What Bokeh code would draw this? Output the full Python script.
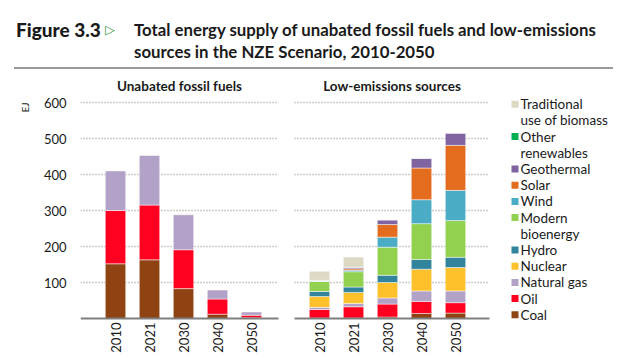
from bokeh.plotting import figure
from bokeh.models import Range1d, FixedTicker, Label, Div, ColumnDataSource, LinearAxis
from bokeh.layouts import column
from bokeh.embed import file_html
from bokeh.resources import INLINE
from bokeh.core.properties import value
import math

years = ["2010", "2021", "2030", "2040", "2050"]

# Unabated fossil fuels (EJ)
fossil_coal = [152, 163, 83, 12, 2]
fossil_oil = [148, 152, 108, 42, 7]
fossil_gas = [110, 138, 97, 25, 9]

# Low-emissions sources (EJ)
le_coal = [1, 1, 4, 14, 15]
le_oil = [24, 31.6, 36, 33.5, 29]
le_gas = [6, 9.4, 17, 29, 32.5]
le_nuclear = [30, 30.5, 43, 60.5, 65]
le_hydro = [14, 15, 20, 27, 28.5]
le_bio = [28, 42.5, 78, 99.5, 102]
le_wind = [1, 4, 28, 66.5, 84]
le_solar = [0.5, 4, 35, 88, 125]
le_geo = [1, 4, 13, 27, 34]
le_other = [0.5, 0.5, 0.5, 0.5, 0.5]
le_trad = [25, 28, 0, 0, 0]

y_ticks = [100, 200, 300, 400, 500, 600]
unit_label = "EJ"

legend_labels = ["Traditional\nuse of biomass", "Other\nrenewables", "Geothermal", "Solar",
                 "Wind", "Modern\nbioenergy", "Hydro", "Nuclear", "Natural gas", "Oil", "Coal"]

C = {
    "coal": "#8f4312", "oil": "#ff0021", "gas": "#b3a2c7", "nuclear": "#ffc12b",
    "hydro": "#31849b", "bio": "#92d050", "wind": "#4bacc6", "solar": "#e46c1f",
    "geo": "#8064a2", "other": "#00b050", "trad": "#ddd9c4",
}
legend_colors = [C["trad"], C["other"], C["geo"], C["solar"], C["wind"], C["bio"],
                 C["hydro"], C["nuclear"], C["gas"], C["oil"], C["coal"]]

FONT = "Lato"
TXT = "#1a1a1a"

# ---- geometry (page pixels) ----
HEADER_H = 67
FRAME_L, FRAME_R = 81, 610
FRAME_T, FRAME_B = 80, 321
Y0_PX, Y600_PX = 319, 103
SLOT = 34.0            # px per category
LEFT_FIRST_PX = 116    # centre of first left bar
RIGHT_OFFSET = 6       # right panel categories start 6 slots later
SHIFT = 7              # measured horizontal offset of the figure on the page

PX_PER_Y = (Y0_PX - Y600_PX) / 600.0
x_start = -(LEFT_FIRST_PX - FRAME_L) / SLOT
x_end = x_start + (FRAME_R - FRAME_L) / SLOT
y_end = (Y0_PX - FRAME_T) / PX_PER_Y
y_start = -(FRAME_B - Y0_PX) / PX_PER_Y


def px_x(px):
    return x_start + (px - FRAME_L) / SLOT


def px_y(py):
    return (Y0_PX - py) / PX_PER_Y


xs_left = list(range(len(years)))
xs_right = [i + RIGHT_OFFSET for i in xs_left]

p = figure(frame_width=FRAME_R - FRAME_L, frame_height=FRAME_B - FRAME_T,
           x_range=Range1d(x_start, x_end), y_range=Range1d(y_start, y_end),
           output_backend="svg", toolbar_location=None,
           min_border_left=FRAME_L - 8 + SHIFT, min_border_right=0,
           min_border_top=2, min_border_bottom=356 - FRAME_B)
p.outline_line_color = None
p.background_fill_color = None
p.border_fill_color = None
p.grid.visible = False

p.yaxis.ticker = FixedTicker(ticks=y_ticks)
p.yaxis.major_label_text_font = FONT
p.yaxis.major_label_text_font_size = "13px"
p.yaxis.major_label_text_color = TXT
p.yaxis.major_label_standoff = 14
p.yaxis.major_tick_out = 0
p.yaxis.major_tick_in = 0
p.yaxis.minor_tick_out = 0
p.yaxis.minor_tick_in = 0
p.yaxis.major_tick_line_color = None
p.yaxis.minor_tick_line_color = None
p.yaxis.axis_line_color = None

# unit label as an outer axis with a single tick at the top
unit_ax = LinearAxis(ticker=FixedTicker(ticks=[y_ticks[-1]]),
                     major_label_overrides={y_ticks[-1]: unit_label})
unit_ax.major_label_orientation = math.pi / 2
unit_ax.major_label_text_font = FONT
unit_ax.major_label_text_font_size = "10px"
unit_ax.major_label_text_color = TXT
unit_ax.major_label_standoff = 16
unit_ax.major_tick_out = 0
unit_ax.major_tick_in = 0
unit_ax.minor_tick_out = 0
unit_ax.minor_tick_in = 0
unit_ax.major_tick_line_color = None
unit_ax.minor_tick_line_color = None
unit_ax.axis_line_color = None
p.add_layout(unit_ax, "left")

p.xaxis.ticker = FixedTicker(ticks=xs_left + xs_right)
overrides = {}
for i, y in enumerate(years):
    overrides[xs_left[i]] = y
    overrides[xs_right[i]] = y
p.xaxis.major_label_overrides = overrides
p.xaxis.major_label_orientation = math.pi / 2
p.xaxis.major_label_text_font = FONT
p.xaxis.major_label_text_font_size = "13px"
p.xaxis.major_label_text_color = TXT
p.xaxis.major_label_standoff = 2
p.xaxis.major_tick_out = 0
p.xaxis.major_tick_in = 0
p.xaxis.minor_tick_out = 0
p.xaxis.minor_tick_in = 0
p.xaxis.major_tick_line_color = None
p.xaxis.minor_tick_line_color = None
p.xaxis.axis_line_color = None

# panel extents
L0, L1 = px_x(81), px_x(279)
R0, R1 = px_x(295), px_x(490)

# dotted gridlines
for t in y_ticks:
    p.segment(x0=[L0, R0], x1=[L1, R1], y0=[t, t], y1=[t, t],
              line_color="#9a9a9a", line_dash="1 2", line_width=1.5)

# stacked bars
src_f = ColumnDataSource(dict(x=xs_left, coal=fossil_coal, oil=fossil_oil, gas=fossil_gas))
p.vbar_stack(["coal", "oil", "gas"], x="x", width=0.6, source=src_f,
             color=[C["coal"], C["oil"], C["gas"]], line_color="white", line_width=0.8, line_alpha=0.6)

src_l = ColumnDataSource(dict(x=xs_right, coal=le_coal, oil=le_oil, gas=le_gas, nuclear=le_nuclear,
                              hydro=le_hydro, bio=le_bio, wind=le_wind, solar=le_solar,
                              geo=le_geo, other=le_other, trad=le_trad))
keys = ["coal", "oil", "gas", "nuclear", "hydro", "bio", "wind", "solar", "geo", "other", "trad"]
p.vbar_stack(keys, x="x", width=0.6, source=src_l, color=[C[k] for k in keys],
             line_color="white", line_width=0.8, line_alpha=0.6)

# baselines
p.segment(x0=[L0, R0], x1=[L1, R1], y0=[0, 0], y1=[0, 0], line_color="#7f7f7f", line_width=2)

# panel titles
for txt, cx in [("Unabated fossil fuels", (L0 + L1) / 2), ("Low-emissions sources", (R0 + R1) / 2)]:
    p.add_layout(Label(x=cx, y=y_ticks[-1], y_offset=17, text=txt, text_font=FONT,
                       text_font_size="13.5px", text_font_style="bold", text_color=TXT,
                       text_align="center", text_baseline="middle"))

# legend (drawn with glyphs)
row_h = 16.2
first_py = 104.7
sw = 7
sq_y, sq_c, t_y, t_txt = [], [], [], []
line_idx = 0
for lab, col in zip(legend_labels, legend_colors):
    sq_y.append(px_y(first_py + row_h * line_idx))
    sq_c.append(col)
    for part in lab.split("\n"):
        t_y.append(px_y(first_py + row_h * line_idx))
        t_txt.append(part)
        line_idx += 1
p.rect(x=[px_x(515.5)] * len(sq_y), y=sq_y, width=sw / SLOT, height=sw / PX_PER_Y,
       color=sq_c, line_color=None)
p.text(x=[px_x(521)] * len(t_y), y=t_y, text=t_txt, text_font=value(FONT),
       text_font_size="13.5px", text_color=TXT, text_baseline="middle", text_align="left")

header = Div(width=608, height=HEADER_H, text=(
    '<div style="position:relative;width:608px;height:67px;color:#1a1a1a;">'
    '<span style="position:absolute;left:11px;top:14px;font-family:Lato;font-weight:900;'
    'font-size:19px;line-height:22px;white-space:nowrap;">Figure 3.3</span>'
    '<span style="position:absolute;left:100px;top:14px;font-family:\'DejaVu Sans\';color:#3d9a3d;'
    'font-size:13px;line-height:22px;">&#9655;</span>'
    '<span style="position:absolute;left:129px;top:14px;font-family:Lato;font-weight:700;'
    'font-size:16.8px;line-height:21.5px;white-space:nowrap;">'
    'Total energy supply of unabated fossil fuels and low-emissions<br>'
    'sources in the NZE Scenario, 2010-2050</span>'
    '<div style="position:absolute;left:9px;top:62px;width:599px;height:2px;background:#9a9a9a;"></div>'
    '</div>'))

layout = column(header, p, spacing=0)
open("out.html", "w").write(file_html(layout, INLINE))
